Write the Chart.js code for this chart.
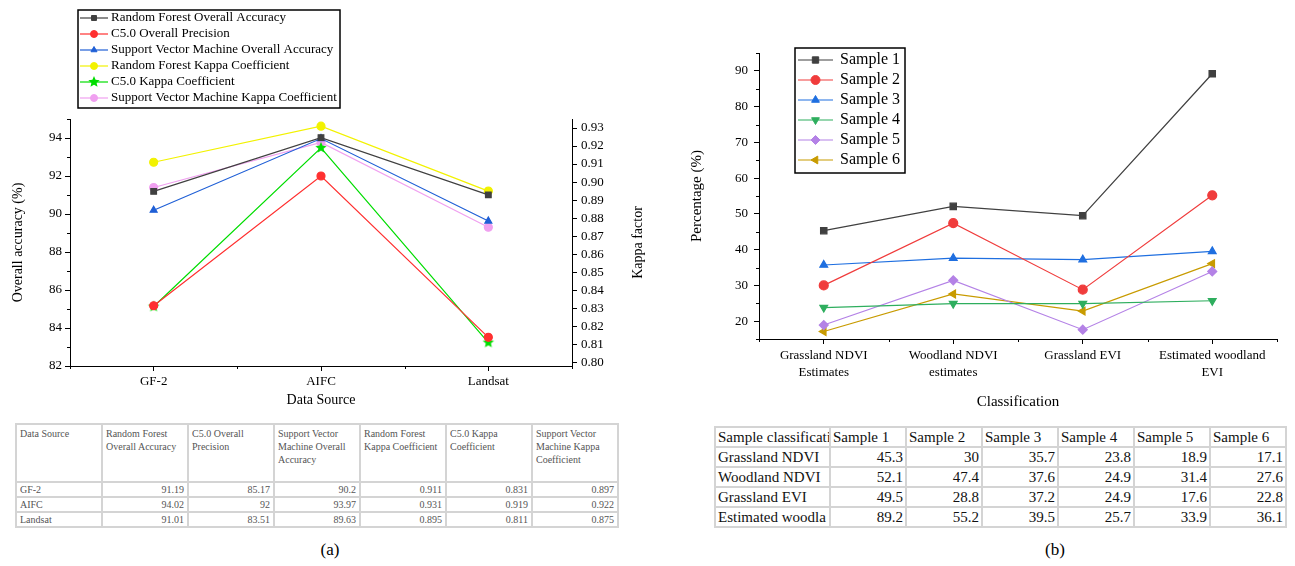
<!DOCTYPE html>
<html>
<head>
<meta charset="utf-8">
<script src="https://cdn.jsdelivr.net/npm/chart.js@4.4.1/dist/chart.umd.min.js"></script>
<style>
  body { margin: 0; background: #fff; width: 1295px; height: 566px; overflow: hidden; position: relative; font-family: 'Liberation Serif', serif; }
  #lienzoA { position: absolute; left: 0; top: 0; }
  #lienzoB { position: absolute; left: 650px; top: 0; }
  table { position: absolute; border-collapse: collapse; table-layout: fixed; }
  #tablaA { left: 15px; top: 423px; width: 604px; font-size: 10px; color: #555; border: 2px solid #333; }
  #tablaA td { border: 2px solid #d4d4d4; padding: 0 3px; line-height: 13px; height: 13px; vertical-align: top; overflow: hidden; }
  #tablaA tr.cab td { height: 54px; padding-top: 2px; }
  #tablaB { left: 714px; top: 426px; width: 572px; font-size: 15px; color: #111; border: 2px solid #333; }
  #tablaB td { border: 2px solid #d4d4d4; padding: 0 2px; height: 18px; line-height: 18px; white-space: nowrap; overflow: hidden; }
  td.num { text-align: right; }
  .rotulo { position: absolute; font-size: 17px; width: 40px; text-align: center; }
</style>
</head>
<body>
<canvas id="lienzoA" width="650" height="410"></canvas>
<canvas id="lienzoB" width="645" height="415"></canvas>
<table id="tablaA"></table>
<table id="tablaB"></table>
<div class="rotulo" style="left:310px; top:540px;">(a)</div>
<div class="rotulo" style="left:1035px; top:540px;">(b)</div>
<script>
// datos del grafico (a)
const fuentes = ["GF-2", "AIFC", "Landsat"];
const nombresA = [
  "Random Forest Overall Accuracy",
  "C5.0 Overall Precision",
  "Support Vector Machine Overall Accuracy",
  "Random Forest Kappa Coefficient",
  "C5.0 Kappa Coefficient",
  "Support Vector Machine Kappa Coefficient"
];
const rfExactitud = [91.19, 94.02, 91.01];
const c50Precision = [85.17, 92, 83.51];
const svmExactitud = [90.2, 93.97, 89.63];
const rfKappa = [0.911, 0.931, 0.895];
const c50Kappa = [0.831, 0.919, 0.811];
const svmKappa = [0.897, 0.922, 0.875];
const ticksExactitud = [82, 84, 86, 88, 90, 92, 94];
const ticksKappa = [0.80, 0.81, 0.82, 0.83, 0.84, 0.85, 0.86, 0.87, 0.88, 0.89, 0.90, 0.91, 0.92, 0.93];

// datos del grafico (b)
const clases = [["Grassland NDVI", "Estimates"], ["Woodland NDVI", "estimates"], "Grassland EVI", ["Estimated woodland", "EVI"]];
const clasesTabla = ["Grassland NDVI", "Woodland NDVI", "Grassland EVI", "Estimated woodla"];
const nombresB = ["Sample 1", "Sample 2", "Sample 3", "Sample 4", "Sample 5", "Sample 6"];
const muestra1 = [45.3, 52.1, 49.5, 89.2];
const muestra2 = [30, 47.4, 28.8, 55.2];
const muestra3 = [35.7, 37.6, 37.2, 39.5];
const muestra4 = [23.8, 24.9, 24.9, 25.7];
const muestra5 = [18.9, 31.4, 17.6, 33.9];
const muestra6 = [17.1, 27.6, 22.8, 36.1];
const ticksPorcentaje = [20, 30, 40, 50, 60, 70, 80, 90];

const serif = "'Liberation Serif', serif";

// estrella rellena para el marcador C5.0 Kappa
function estrella(color, r) {
  const c = document.createElement("canvas");
  c.width = c.height = r * 2 + 2;
  const g = c.getContext("2d");
  g.fillStyle = color;
  g.beginPath();
  for (let k = 0; k < 10; k++) {
    const ang = -Math.PI / 2 + k * Math.PI / 5;
    const rr = k % 2 ? r * 0.45 : r;
    g.lineTo(r + 1 + rr * Math.cos(ang), r + 1 + rr * Math.sin(ang));
  }
  g.closePath();
  g.fill();
  return c;
}

// leyenda con caja, una serie por fila
const cajaLeyenda = {
  id: "cajaLeyenda",
  afterDraw(chart, args, op) {
    const ctx = chart.ctx;
    ctx.save();
    ctx.lineWidth = 1.5;
    ctx.strokeStyle = "#000";
    ctx.strokeRect(op.x, op.y, op.ancho, op.alto);
    ctx.font = op.fuente;
    ctx.textBaseline = "middle";
    chart.data.datasets.forEach((ds, i) => {
      const y = op.fila0 + i * op.paso;
      ctx.strokeStyle = ds.borderColor;
      ctx.lineWidth = ds.borderWidth;
      ctx.beginPath();
      ctx.moveTo(op.linea0, y);
      ctx.lineTo(op.linea1, y);
      ctx.stroke();
      ctx.fillStyle = ds.pointBackgroundColor;
      ctx.lineWidth = 1;
      Chart.helpers.drawPoint(ctx, { pointStyle: ds.pointStyle, rotation: ds.pointRotation || 0, radius: op.radio, borderWidth: 1 }, (op.linea0 + op.linea1) / 2, y);
      ctx.fillStyle = "#000";
      ctx.fillText(ds.label, op.textoX, y);
    });
    ctx.restore();
  }
};

// marcas menores de los ejes
const marcasMenores = {
  id: "marcasMenores",
  afterDraw(chart, args, op) {
    const ctx = chart.ctx;
    const area = chart.chartArea;
    const x = chart.scales.x;
    ctx.save();
    ctx.strokeStyle = "#000";
    ctx.lineWidth = 1;
    ctx.beginPath();
    for (let i = 0; i <= chart.data.labels.length; i++) {
      const px = Math.round(x.getPixelForValue(i - 0.5)) + 0.5;
      ctx.moveTo(px, area.bottom);
      ctx.lineTo(px, area.bottom + 3);
    }
    (op.ejes || []).forEach(e => {
      const s = chart.scales[e.id];
      for (let v = e.desde; v <= e.hasta + 1e-9; v += e.paso) {
        const py = Math.round(s.getPixelForValue(v)) + 0.5;
        ctx.moveTo(s.right, py);
        ctx.lineTo(s.right - 3, py);
      }
    });
    ctx.stroke();
    // titulo del eje derecho, leido de abajo hacia arriba
    if (op.tituloDerecho) {
      const s = chart.scales.y1;
      ctx.translate(s.right - 12, (area.top + area.bottom) / 2);
      ctx.rotate(-Math.PI / 2);
      ctx.font = "14px " + serif;
      ctx.fillStyle = "#000";
      ctx.textAlign = "center";
      ctx.textBaseline = "middle";
      ctx.fillText(op.tituloDerecho, 0, 0);
    }
    ctx.restore();
  }
};

function serie(label, data, color, estilo, extra) {
  return Object.assign({
    label: label, data: data,
    borderColor: color, backgroundColor: color,
    pointBackgroundColor: color, pointBorderColor: color,
    pointStyle: estilo, pointRadius: 4, borderWidth: 1.2, tension: 0
  }, extra || {});
}

function ejeX(titulo, alto, fuenteTicks, fuenteTitulo, relleno) {
  return {
    type: "category", offset: true,
    grid: { offset: false, drawOnChartArea: false, tickLength: 5, color: "#000" },
    border: { color: "#000", width: 1 },
    ticks: { color: "#000", font: fuenteTicks, padding: 3, maxRotation: 0, autoSkip: false },
    title: { display: true, text: titulo, color: "#000", font: fuenteTitulo, padding: { top: 0, bottom: relleno } },
    afterFit(s) { s.height = alto; }
  };
}

function ejeY(posicion, min, max, valores, ancho, relleno, extra) {
  return Object.assign({
    position: posicion, min: min, max: max,
    grid: { drawOnChartArea: false, tickLength: 5, color: "#000" },
    border: { color: "#000", width: 1 },
    ticks: { color: "#000", font: { family: serif, size: 13 }, padding: relleno },
    afterBuildTicks(s) { s.ticks = valores.map(v => ({ value: v })); },
    afterFit(s) { s.width = ancho; }
  }, extra || {});
}

// grafico (a)
new Chart(document.getElementById("lienzoA"), {
  type: "line",
  data: {
    labels: fuentes,
    datasets: [
      serie(nombresA[0], rfExactitud, "#404040", "rect", { yAxisID: "y" }),
      serie(nombresA[1], c50Precision, "#ff3030", "circle", { yAxisID: "y" }),
      serie(nombresA[2], svmExactitud, "#1f5fd6", "triangle", { yAxisID: "y" }),
      serie(nombresA[3], rfKappa, "#f2f200", "circle", { yAxisID: "y1" }),
      serie(nombresA[4], c50Kappa, "#00dd00", estrella("#00dd00", 6), { yAxisID: "y1" }),
      serie(nombresA[5], svmKappa, "#f0a0f0", "circle", { yAxisID: "y1" })
    ]
  },
  options: {
    responsive: false, animation: false,
    layout: { padding: { top: 119, left: 0, right: 0, bottom: 0 } },
    plugins: {
      legend: { display: false },
      tooltip: { enabled: false },
      cajaLeyenda: { x: 78, y: 10, ancho: 262, alto: 98, linea0: 80, linea1: 108, textoX: 111, fila0: 18, paso: 16, radio: 3.5, fuente: "13px " + serif },
      marcasMenores: { ejes: [{ id: "y", desde: 83, hasta: 95, paso: 2 }], tituloDerecho: "Kappa factor" }
    },
    scales: {
      x: ejeX("Data Source", 44, { family: serif, size: 13 }, { family: serif, size: 14 }, 1),
      y: ejeY("left", 82, 95, ticksExactitud, 70, 3, {
        title: { display: true, text: "Overall accuracy (%)", color: "#000", font: { family: serif, size: 14 }, padding: { top: 10, bottom: 0 } }
      }),
      y1: ejeY("right", 0.798, 0.935, ticksKappa, 78, 4)
    }
  },
  plugins: [cajaLeyenda, marcasMenores]
});
// etiquetas del eje derecho con dos decimales
Chart.getChart("lienzoA").options.scales.y1.ticks.callback = v => v.toFixed(2);
Chart.getChart("lienzoA").update();

// grafico (b)
new Chart(document.getElementById("lienzoB"), {
  type: "line",
  data: {
    labels: clases,
    datasets: [
      serie(nombresB[0], muestra1, "#404040", "rect", { pointRadius: 4.5 }),
      serie(nombresB[1], muestra2, "#f03c3c", "circle", { pointRadius: 4.5 }),
      serie(nombresB[2], muestra3, "#1f6fe0", "triangle", { pointRadius: 4.5 }),
      serie(nombresB[3], muestra4, "#2eae5e", "triangle", { pointRadius: 4.5, pointRotation: 180 }),
      serie(nombresB[4], muestra5, "#b482e6", "rectRot", { pointRadius: 4.5 }),
      serie(nombresB[5], muestra6, "#c89b00", "triangle", { pointRadius: 4.5, pointRotation: 270 })
    ]
  },
  options: {
    responsive: false, animation: false,
    layout: { padding: { top: 53, left: 0, right: 18, bottom: 0 } },
    plugins: {
      legend: { display: false },
      tooltip: { enabled: false },
      cajaLeyenda: { x: 145, y: 48, ancho: 110, alto: 125, linea0: 148, linea1: 183, textoX: 190, fila0: 60, paso: 20, radio: 4.5, fuente: "16px " + serif },
      marcasMenores: { ejes: [{ id: "y", desde: 15, hasta: 95, paso: 10 }] }
    },
    scales: {
      x: ejeX("Classification", 76, { family: serif, size: 13, lineHeight: 1.3 }, { family: serif, size: 15 }, 4),
      y: ejeY("left", 15, 95, ticksPorcentaje, 109, 6, {
        title: { display: true, text: "Percentage (%)", color: "#000", font: { family: serif, size: 15 }, padding: { top: 38, bottom: 0 } }
      })
    }
  },
  plugins: [cajaLeyenda, marcasMenores]
});

// tablas construidas con los mismos datos
function construirTablaA() {
  const series = [rfExactitud, c50Precision, svmExactitud, rfKappa, c50Kappa, svmKappa];
  let html = "<colgroup>" + '<col style="width:86px">'.repeat(7) + "</colgroup>";
  html += '<tr class="cab"><td>Data Source</td>' + nombresA.map(n => "<td>" + n + "</td>").join("") + "</tr>";
  fuentes.forEach((f, i) => {
    html += "<tr><td>" + f + "</td>" + series.map(s => '<td class="num">' + s[i] + "</td>").join("") + "</tr>";
  });
  document.getElementById("tablaA").innerHTML = html;
}

function construirTablaB() {
  const series = [muestra1, muestra2, muestra3, muestra4, muestra5, muestra6];
  let html = '<colgroup><col style="width:115px">' + '<col style="width:76px">'.repeat(6) + "</colgroup>";
  html += "<tr><td>Sample classification</td>" + nombresB.map(n => "<td>" + n + "</td>").join("") + "</tr>";
  clasesTabla.forEach((c, i) => {
    html += "<tr><td>" + c + "</td>" + series.map(s => '<td class="num">' + s[i] + "</td>").join("") + "</tr>";
  });
  document.getElementById("tablaB").innerHTML = html;
}

construirTablaA();
construirTablaB();
</script>
</body>
</html>
